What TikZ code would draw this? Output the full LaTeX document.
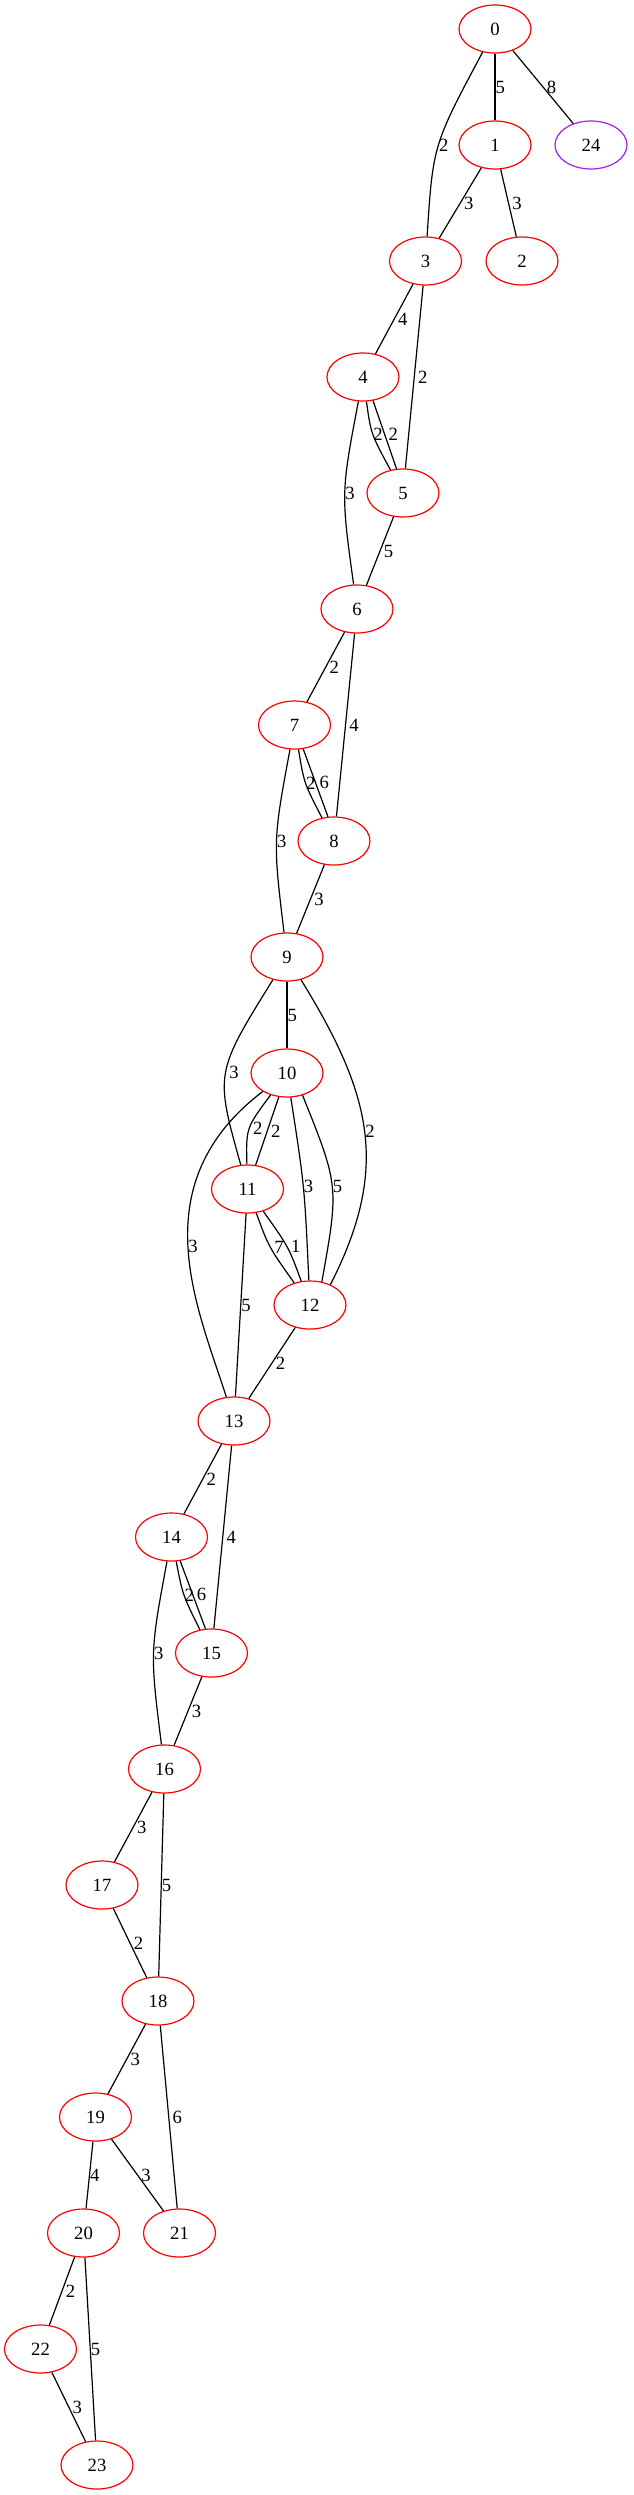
\documentclass[tikz,border=0pt]{standalone}
\usepackage{fontspec}
\setmainfont{Liberation Serif}
\usepackage{xcolor}
\usetikzlibrary{shapes.geometric}
\definecolor{nodered}{RGB}{255,0,0}
\definecolor{nodepurple}{RGB}{160,32,240}

\begin{document}
\begin{tikzpicture}[x=0.75pt, y=-0.75pt,
    vtx/.style={draw=nodered, ellipse, line width=0.9pt, minimum width=54pt, minimum height=36pt, inner sep=0pt, font=\fontsize{14}{16}\selectfont},
    wlabel/.style={right, inner sep=0pt, font=\fontsize{14}{16}\selectfont},
    wslant/.style={wlabel, xshift=2.5pt},
    link/.style={line width=0.9pt}]
    \useasboundingbox (0,0) rectangle (633,2495);
    % Weighted graph, one rank per row
    \node[vtx] (n0) at (495,29) {0};
    \node[vtx] (n1) at (495,145) {1};
    \node[vtx, draw=nodepurple] (n24) at (591,145) {24};
    \node[vtx] (n3) at (425.5,261) {3};
    \node[vtx] (n2) at (522,261) {2};
    \node[vtx] (n4) at (363,377) {4};
    \node[vtx] (n5) at (403,493) {5};
    \node[vtx] (n6) at (357,609) {6};
    \node[vtx] (n7) at (294.5,725) {7};
    \node[vtx] (n8) at (334,841) {8};
    \node[vtx] (n9) at (287,957) {9};
    \node[vtx] (n10) at (287,1073) {10};
    \node[vtx] (n11) at (247.5,1189) {11};
    \node[vtx] (n12) at (310,1305) {12};
    \node[vtx] (n13) at (234,1421) {13};
    \node[vtx] (n14) at (171.5,1537) {14};
    \node[vtx] (n15) at (211.5,1653) {15};
    \node[vtx] (n16) at (164.5,1769) {16};
    \node[vtx] (n17) at (102,1885) {17};
    \node[vtx] (n18) at (158,2001) {18};
    \node[vtx] (n19) at (95.5,2117) {19};
    \node[vtx] (n20) at (83.5,2233) {20};
    \node[vtx] (n21) at (179.5,2233) {21};
    \node[vtx] (n22) at (40.5,2349) {22};
    \node[vtx] (n23) at (97,2465) {23};

    \draw[link] (n0) -- node[wlabel] {5} (n1);
    \draw[link] (n0) -- node[wslant] {8} (n24);
    \draw[link] (n0) .. controls (433,145) .. (n3) node[wlabel, pos=0.5] {2};
    \draw[link] (n1) -- node[wslant] {3} (n3);
    \draw[link] (n1) -- node[wslant] {3} (n2);
    \draw[link] (n3) -- node[wslant] {4} (n4);
    \draw[link] (n3) -- node[wslant] {2} (n5);
    \draw[link] (n4) .. controls (371,434) .. (n5) node[wlabel, pos=0.5] {2};
    \draw[link] (n4.-67) -- node[wslant] {2} (n5.105);
    \draw[link] (n4) .. controls (341,493) .. (n6) node[wlabel, pos=0.5] {3};
    \draw[link] (n5) -- node[wslant] {5} (n6);
    \draw[link] (n6) -- node[wslant] {2} (n7);
    \draw[link] (n6) -- node[wslant] {4} (n8);
    \draw[link] (n7) .. controls (304,783) .. (n8) node[wlabel, pos=0.5] {2};
    \draw[link] (n7.-70) -- node[wslant] {6} (n8.104);
    \draw[link] (n7) .. controls (273,841) .. (n9) node[wlabel, pos=0.5] {3};
    \draw[link] (n8) -- node[wslant] {3} (n9);
    \draw[link] (n9) -- node[wlabel] {5} (n10);
    \draw[link] (n9) .. controls (215,1073) .. (n11) node[wslant, pos=0.5] {3};
    \draw[link] (n9) .. controls (372,1095) and (390,1168) .. (n12.45) node[wlabel, pos=0.5] {2};
    \draw[link] (n10) .. controls (246,1128) .. (n11) node[wslant, pos=0.5] {2};
    \draw[link] (n10) -- node[wslant] {2} (n11);
    \draw[link] (n10) .. controls (304.5,1186) .. (n12) node[wlabel, pos=0.5] {3};
    \draw[link] (n10.-55) .. controls (339,1186) .. (n12.63) node[wlabel, pos=0.5] {5};
    \draw[link] (n10) .. controls (140,1185) and (198,1308) .. (n13) node[wlabel, pos=0.5] {3};
    \draw[link] (n11) .. controls (268.7,1247) .. (n12) node[wslant, pos=0.5] {7};
    \draw[link] (n11) .. controls (288.7,1247) .. (n12) node[wslant, pos=0.5] {1};
    \draw[link] (n11) -- node[wlabel] {5} (n13);
    \draw[link] (n12) -- node[wslant] {2} (n13);
    \draw[link] (n13) -- node[wslant] {2} (n14);
    \draw[link] (n13) -- node[wslant] {4} (n15);
    \draw[link] (n14) .. controls (182.7,1595) .. (n15) node[wlabel, pos=0.5] {2};
    \draw[link] (n14.-70) -- node[wslant] {6} (n15.104);
    \draw[link] (n14) .. controls (150,1653) .. (n16) node[wlabel, pos=0.5] {3};
    \draw[link] (n15) -- node[wslant] {3} (n16);
    \draw[link] (n16) -- node[wslant] {3} (n17);
    \draw[link] (n16) -- node[wlabel] {5} (n18);
    \draw[link] (n17) -- node[wslant] {2} (n18);
    \draw[link] (n18) -- node[wslant] {3} (n19);
    \draw[link] (n18) -- node[wslant] {6} (n21);
    \draw[link] (n19) -- node[wlabel] {4} (n20);
    \draw[link] (n19) -- node[wslant] {3} (n21);
    \draw[link] (n20) -- node[wslant] {2} (n22);
    \draw[link] (n20) -- node[wlabel] {5} (n23);
    \draw[link] (n22) -- node[wslant] {3} (n23);
\end{tikzpicture}
\end{document}
